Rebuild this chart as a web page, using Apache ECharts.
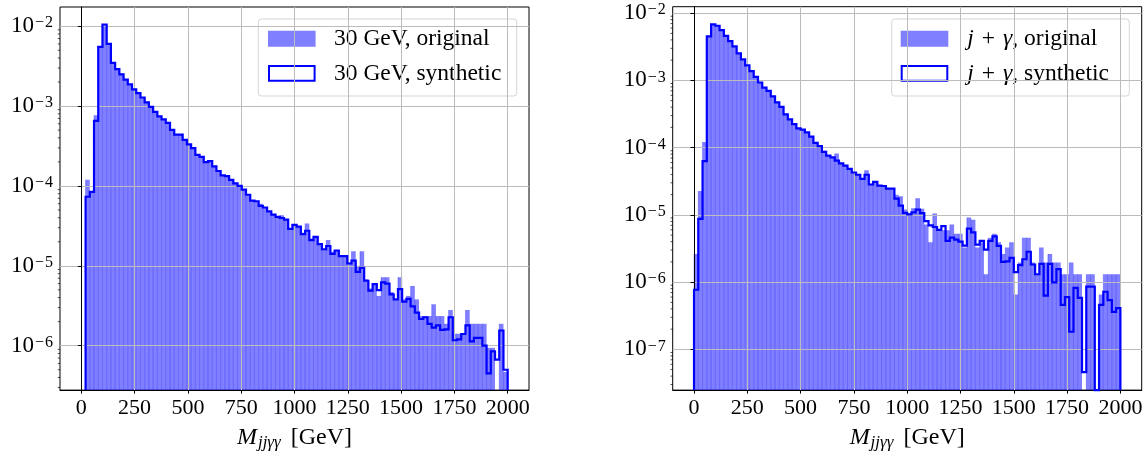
<!DOCTYPE html>
<html>
<head>
<meta charset="utf-8">
<script src="https://cdn.jsdelivr.net/npm/echarts@6/dist/echarts.min.js"></script>
<style>
  html, body { margin: 0; padding: 0; background: #ffffff; }
  #chart { width: 1146px; height: 456px; }
</style>
</head>
<body>
<div id="chart"></div>
<script>
// Histogram binning (GeV)
const leftBinStart = 20, leftBinEnd = 2000;
const rightBinStart = 0, rightBinEnd = 2000;

// Axis ticks
const xTickValues = [0, 250, 500, 750, 1000, 1250, 1500, 1750, 2000];
const leftYTicks = [1e-6, 1e-5, 1e-4, 1e-3, 1e-2];
const rightYTicks = [1e-7, 1e-6, 1e-5, 1e-4, 1e-3, 1e-2];

// Legend / axis texts
const leftLegend = ['30 GeV, original', '30 GeV, synthetic'];
const rightLegend = ['{i|j}{p|+}{i|γ}, original', '{i|j}{p|+}{i|γ}, synthetic'];
const xAxisTitle = '{m|M}{s|jjγγ} [GeV]';

// Normalised bin contents, 30 GeV sample
const left30Original = [
  1.20e-4, 8.44e-5, 7.70e-4, 5.52e-3, 1.05e-2, 6.01e-3, 3.48e-3, 2.91e-3, 2.55e-3, 2.15e-3,
  1.87e-3, 1.62e-3, 1.45e-3, 1.28e-3, 1.11e-3, 9.77e-4, 8.48e-4, 7.43e-4, 6.83e-4, 6.15e-4,
  5.05e-4, 4.38e-4, 4.38e-4, 3.77e-4, 3.31e-4, 2.98e-4, 2.45e-4, 2.31e-4, 1.99e-4, 2.05e-4,
  1.76e-4, 1.54e-4, 1.36e-4, 1.33e-4, 1.19e-4, 1.08e-4, 1.00e-4, 9.00e-5, 7.76e-5, 6.55e-5,
  6.43e-5, 6.00e-5, 5.37e-5, 4.80e-5, 4.37e-5, 4.09e-5, 4.30e-5, 3.79e-5, 2.90e-5, 3.30e-5,
  3.10e-5, 2.60e-5, 3.40e-5, 2.20e-5, 2.30e-5, 1.90e-5, 1.55e-5, 2.10e-5, 1.50e-5, 1.50e-5,
  1.35e-5, 1.30e-5, 1.10e-5, 1.52e-5, 1.00e-5, 1.52e-5, 6.80e-6, 5.20e-6, 6.10e-6, 4.20e-6,
  7.20e-6, 7.20e-6, 4.70e-6, 3.80e-6, 7.20e-6, 3.80e-6, 4.20e-6, 5.60e-6, 3.80e-6, 2.35e-6,
  2.35e-6, 2.35e-6, 3.30e-6, 2.35e-6, 2.35e-6, 1.88e-6, 2.80e-6, 1.41e-6, 1.41e-6, 1.41e-6,
  2.80e-6, 1.88e-6, 1.88e-6, 1.88e-6, 1.88e-6, 9.40e-7, 9.40e-7, 0,       1.88e-6, 4.70e-7
];
const left30Synthetic = [
  7.33e-5, 8.44e-5, 6.52e-4, 5.52e-3, 1.05e-2, 6.01e-3, 3.48e-3, 2.91e-3, 2.50e-3, 2.15e-3,
  1.87e-3, 1.62e-3, 1.45e-3, 1.28e-3, 1.11e-3, 9.77e-4, 8.48e-4, 7.43e-4, 6.83e-4, 6.15e-4,
  5.05e-4, 4.38e-4, 4.38e-4, 3.77e-4, 3.31e-4, 2.98e-4, 2.45e-4, 2.31e-4, 1.99e-4, 2.05e-4,
  1.76e-4, 1.54e-4, 1.36e-4, 1.33e-4, 1.19e-4, 1.08e-4, 1.00e-4, 9.00e-5, 7.76e-5, 6.55e-5,
  6.43e-5, 5.63e-5, 5.37e-5, 4.80e-5, 4.37e-5, 4.09e-5, 3.97e-5, 3.79e-5, 2.90e-5, 3.26e-5,
  3.10e-5, 2.50e-5, 2.75e-5, 2.10e-5, 2.30e-5, 1.87e-5, 1.61e-5, 1.77e-5, 1.41e-5, 1.55e-5,
  1.32e-5, 1.32e-5, 1.07e-5, 1.16e-5, 8.40e-6, 9.40e-6, 6.50e-6, 4.90e-6, 5.90e-6, 4.95e-6,
  6.20e-6, 6.00e-6, 4.40e-6, 3.80e-6, 5.10e-6, 3.56e-6, 3.85e-6, 3.10e-6, 2.60e-6, 2.16e-6,
  2.27e-6, 1.88e-6, 1.68e-6, 1.80e-6, 1.58e-6, 1.60e-6, 2.27e-6, 1.17e-6, 1.20e-6, 1.40e-6,
  1.80e-6, 1.13e-6, 1.25e-6, 1.25e-6, 1.00e-6, 4.50e-7, 8.50e-7, 6.70e-7, 1.55e-6, 5.00e-7
];

// Normalised bin contents, j + gamma sample
const rightJgOriginal = [
  2.62e-6, 2.26e-5, 1.21e-4, 4.50e-3, 6.80e-3, 6.60e-3, 5.60e-3, 4.70e-3, 3.90e-3, 3.20e-3,
  2.55e-3, 2.05e-3, 1.70e-3, 1.40e-3, 1.15e-3, 9.30e-4, 7.80e-4, 7.20e-4, 5.90e-4, 4.80e-4,
  4.10e-4, 3.20e-4, 2.70e-4, 2.30e-4, 1.95e-4, 1.85e-4, 1.65e-4, 1.45e-4, 1.20e-4, 1.05e-4,
  9.00e-5, 7.60e-5, 7.20e-5, 8.20e-5, 5.90e-5, 5.40e-5, 4.80e-5, 4.30e-5, 4.00e-5, 3.40e-5,
  4.60e-5, 2.90e-5, 3.10e-5, 2.70e-5, 2.70e-5, 2.50e-5, 2.45e-5, 2.00e-5, 1.90e-5, 1.20e-5,
  1.02e-5, 1.25e-5, 1.77e-5, 1.23e-5, 7.19e-6, 3.92e-6, 1.05e-5, 5.89e-6, 5.89e-6, 5.89e-6,
  7.19e-6, 5.23e-6, 5.23e-6, 3.27e-6, 9.15e-6, 8.50e-6, 3.27e-6, 3.92e-6, 1.31e-6, 4.58e-6,
  5.23e-6, 3.92e-6, 2.62e-6, 3.27e-6, 3.92e-6, 6.54e-7, 1.96e-6, 4.58e-6, 4.58e-6, 1.96e-6,
  1.31e-6, 3.27e-6, 1.96e-6, 2.62e-6, 1.96e-6, 1.96e-6, 1.31e-6, 1.31e-6, 1.96e-6, 1.31e-6,
  1.31e-6, 0,       1.31e-6, 1.31e-6, 0,       6.54e-7, 1.31e-6, 1.31e-6, 1.31e-6, 1.31e-6
];
const rightJgSynthetic = [
  7.70e-7, 8.70e-6, 6.30e-5, 4.50e-3, 6.80e-3, 6.50e-3, 5.60e-3, 4.60e-3, 3.83e-3, 3.20e-3,
  2.53e-3, 2.05e-3, 1.67e-3, 1.37e-3, 1.13e-3, 9.30e-4, 7.80e-4, 7.00e-4, 5.80e-4, 4.70e-4,
  4.05e-4, 3.13e-4, 2.64e-4, 2.24e-4, 1.93e-4, 1.85e-4, 1.69e-4, 1.46e-4, 1.18e-4, 1.05e-4,
  8.65e-5, 7.60e-5, 7.15e-5, 6.40e-5, 5.85e-5, 5.40e-5, 4.83e-5, 4.27e-5, 3.95e-5, 3.42e-5,
  3.95e-5, 2.83e-5, 3.09e-5, 2.73e-5, 2.69e-5, 2.45e-5, 2.45e-5, 1.75e-5, 1.37e-5, 1.07e-5,
  1.02e-5, 1.09e-5, 1.20e-5, 1.06e-5, 8.10e-6, 7.00e-6, 6.60e-6, 6.00e-6, 6.80e-6, 4.10e-6,
  4.60e-6, 4.30e-6, 4.00e-6, 3.50e-6, 6.25e-6, 5.50e-6, 3.60e-6, 4.10e-6, 3.05e-6, 4.10e-6,
  4.80e-6, 3.46e-6, 2.00e-6, 2.04e-6, 2.29e-6, 1.41e-6, 1.79e-6, 2.19e-6, 2.83e-6, 1.83e-6,
  1.31e-6, 1.87e-6, 6.30e-7, 1.87e-6, 9.90e-7, 1.56e-6, 4.60e-7, 6.00e-7, 1.83e-7, 8.20e-7,
  5.85e-7, 4.60e-8, 8.60e-7, 8.60e-7, 0,       4.60e-7, 7.20e-7, 5.40e-7, 3.60e-7, 4.10e-7
];

// Visible ranges of the two panels
const xRange = [-100, 2100];
const leftYRange = [2.78e-7, 1.74e-2];
const rightYRange = [2.48e-8, 1.247e-2];

const SERIF = '"Liberation Serif", "DejaVu Serif", serif';
const fillColor = 'rgba(0, 0, 255, 0.5)';
const lineColor = '#0000ff';

function binItems(start, end, values) {
  const w = (end - start) / values.length;
  return values.map((v, i) => [start + i * w, start + (i + 1) * w, v]);
}

function supLabel(v) {
  const e = Math.round(Math.log10(v));
  return e < 0 ? '{b|10}{m|\u2212}{e|' + (-e) + '}' : '{b|10}{e|' + e + '}';
}

// Filled bars of the original sample, drawn from the axis floor up to each value
function barSeries(idx, items, yRange) {
  return {
    type: 'custom',
    xAxisIndex: idx, yAxisIndex: idx,
    z: 1,
    silent: true,
    data: items.filter(d => d[2] > 0),
    encode: { x: [0, 1], y: 2 },
    renderItem: function (params, api) {
      const top = api.coord([api.value(0), api.value(2)]);
      const bottom = api.coord([api.value(1), yRange[0]]);
      return {
        type: 'group',
        children: [
          { type: 'rect',
            shape: { x: top[0], y: top[1], width: bottom[0] - top[0], height: bottom[1] - top[1] },
            style: { fill: fillColor } },
          { type: 'line',
            shape: { x1: top[0], y1: top[1], x2: top[0], y2: bottom[1] },
            style: { stroke: 'rgba(0, 0, 255, 0.35)', lineWidth: 0.8 } }
        ]
      };
    }
  };
}

// Step outline of the synthetic sample, one polyline over all bins
function stepSeries(idx, items, yRange) {
  return {
    type: 'custom',
    xAxisIndex: idx, yAxisIndex: idx,
    z: 4,
    silent: true,
    data: items.map(d => [d[0], d[1], d[2] > 0 ? d[2] : yRange[0]]),
    encode: { x: [0, 1], y: 2 },
    renderItem: function (params, api) {
      if (params.dataIndexInside !== 0) return null;
      const n = params.dataInsideLength;
      const pts = [];
      pts.push(api.coord([api.value(0, 0), yRange[0]]));
      for (let i = 0; i < n; i++) {
        const v = api.value(2, i);
        pts.push(api.coord([api.value(0, i), v]));
        pts.push(api.coord([api.value(1, i), v]));
      }
      pts.push(api.coord([api.value(1, n - 1), yRange[0]]));
      return {
        type: 'polyline',
        shape: { points: pts },
        style: { stroke: lineColor, lineWidth: 2.2, fill: null, lineJoin: 'miter' }
      };
    }
  };
}

// Logarithmic minor ticks on the y axis (2..9 x 10^n)
function minorTickSeries(idx, yRange) {
  const vals = [];
  for (let e = -9; e <= 0; e++) {
    for (let m = 2; m <= 9; m++) {
      const v = m * Math.pow(10, e);
      if (v > yRange[0] && v < yRange[1]) vals.push([xRange[0], v]);
    }
  }
  return {
    type: 'custom',
    xAxisIndex: idx, yAxisIndex: idx,
    z: 5,
    silent: true,
    data: vals,
    encode: { x: 0, y: 1 },
    renderItem: function (params, api) {
      const p = api.coord([api.value(0), api.value(1)]);
      const x0 = params.coordSys.x;
      return {
        type: 'line',
        shape: { x1: x0 - 2.2, y1: p[1], x2: x0, y2: p[1] },
        style: { stroke: '#000000', lineWidth: 0.7 }
      };
    }
  };
}

function xAxisCfg(idx) {
  return {
    type: 'value', gridIndex: idx,
    min: xRange[0], max: xRange[1],
    z: 3,
    axisLine: { show: true, onZero: false, lineStyle: { color: '#000', width: 1 } },
    axisTick: { show: true, length: 3.5, lineStyle: { color: '#000', width: 1 }, customValues: xTickValues },
    axisLabel: { customValues: xTickValues, margin: 7, color: '#000', fontFamily: SERIF, fontSize: 22,
                 formatter: v => String(v) },
    splitLine: { show: true, lineStyle: { color: '#bcbcbc', width: 1 } },
    name: xAxisTitle,
    nameLocation: 'middle',
    nameGap: 28,
    nameTextStyle: {
      color: '#000', fontFamily: SERIF, fontSize: 24, lineHeight: 27,
      rich: {
        m: { fontFamily: SERIF, fontSize: 24, fontStyle: 'italic', lineHeight: 27, color: '#000', padding: [0, 1, 0, 0] },
        s: { fontFamily: SERIF, fontSize: 17, fontStyle: 'italic', lineHeight: 12, verticalAlign: 'bottom', color: '#000', padding: [0, 4, 0, 0] }
      }
    }
  };
}

function yAxisCfg(idx, yRange, ticks) {
  return {
    type: 'log', logBase: 10, gridIndex: idx,
    min: yRange[0], max: yRange[1],
    z: 3,
    axisLine: { show: true, lineStyle: { color: '#000', width: 1 } },
    axisTick: { show: true, length: 3.5, lineStyle: { color: '#000', width: 1 }, customValues: ticks },
    axisLabel: {
      customValues: ticks, margin: 7, color: '#000',
      formatter: v => supLabel(v),
      rich: {
        b: { fontFamily: SERIF, fontSize: 23, lineHeight: 22, color: '#000' },
        m: { fontFamily: SERIF, fontSize: 16, lineHeight: 18, verticalAlign: 'top', color: '#000', padding: [0, 1, 0, 1] },
        e: { fontFamily: SERIF, fontSize: 16, lineHeight: 18, verticalAlign: 'top', color: '#000' }
      }
    },
    splitLine: { show: true, lineStyle: { color: '#bcbcbc', width: 1 } }
  };
}

// Legend box: filled swatch for the original sample, outlined swatch for the synthetic one
function legendGraphic(box, swatchX, textX, labels) {
  const richStyle = {
    i: { fontFamily: SERIF, fontSize: 23.5, fontStyle: 'italic', fill: '#000' },
    p: { fontFamily: SERIF, fontSize: 23.5, fill: '#000', padding: [0, 8, 0, 8] }
  };
  const textStyle = (t, y) => ({
    type: 'text', x: textX, y: y,
    style: { text: t, fill: '#000', fontFamily: SERIF, fontSize: 23.5,
             verticalAlign: 'middle', align: 'left', rich: richStyle }
  });
  return {
    type: 'group', z: 20,
    children: [
      { type: 'rect', shape: { x: box[0], y: box[1], width: box[2], height: box[3], r: 3 },
        style: { fill: 'rgba(255,255,255,0.8)', stroke: 'rgba(204,204,204,0.8)', lineWidth: 1 } },
      { type: 'rect', shape: { x: swatchX, y: 30.7, width: 47.6, height: 16 },
        style: { fill: fillColor } },
      { type: 'rect', shape: { x: swatchX + 1, y: 66, width: 45.6, height: 14.7 },
        style: { fill: null, stroke: lineColor, lineWidth: 2 } },
      textStyle(labels[0], 39.2),
      textStyle(labels[1], 73.4)
    ]
  };
}

const leftItemsO = binItems(leftBinStart, leftBinEnd, left30Original);
const leftItemsS = binItems(leftBinStart, leftBinEnd, left30Synthetic);
const rightItemsO = binItems(rightBinStart, rightBinEnd, rightJgOriginal);
const rightItemsS = binItems(rightBinStart, rightBinEnd, rightJgSynthetic);

const chart = echarts.init(document.getElementById('chart'), null, { renderer: 'canvas' });
chart.setOption({
  animation: false,
  backgroundColor: '#ffffff',
  grid: [
    { left: 60, top: 7, width: 469, height: 391, show: true, borderColor: '#000', borderWidth: 1, backgroundColor: 'transparent' },
    { left: 672.7, top: 6.7, width: 469, height: 391.6, show: true, borderColor: '#000', borderWidth: 1, backgroundColor: 'transparent' }
  ],
  xAxis: [xAxisCfg(0), xAxisCfg(1)],
  yAxis: [yAxisCfg(0, leftYRange, leftYTicks), yAxisCfg(1, rightYRange, rightYTicks)],
  series: [
    barSeries(0, leftItemsO, leftYRange),
    stepSeries(0, leftItemsS, leftYRange),
    minorTickSeries(0, leftYRange),
    barSeries(1, rightItemsO, rightYRange),
    stepSeries(1, rightItemsS, rightYRange),
    minorTickSeries(1, rightYRange)
  ],
  graphic: [
    legendGraphic([258.3, 19, 258.4, 77], 268, 334, leftLegend),
    legendGraphic([891.7, 19, 237.6, 77], 900.7, 967.3, rightLegend)
  ]
});
</script>
</body>
</html>
